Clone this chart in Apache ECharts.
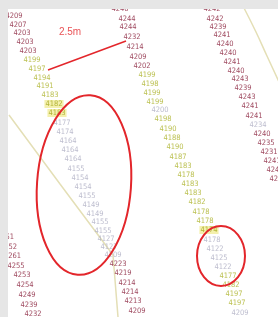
<!DOCTYPE html>
<html>
<head>
<meta charset="utf-8">
<script src="https://cdn.jsdelivr.net/npm/echarts@6/dist/echarts.min.js"></script>
<style>html,body{margin:0;padding:0;background:#fff}#main{width:278px;height:317px}</style>
</head>
<body>
<div id="main"></div>
<script>
// 高程点  tone: r=高 y=中 h=中(标亮) g=低
var aVal  = [4211,4209,4207,4203,4203,4203,4199,4197,4194,4191,4183,4182,4183,4177,4174,4164,4164,4164,4155,4154,4154,4155,4149,4149,4155,4155,4127,4127,4209,4223,4219,4214,4214,4213,4209];
var aX    = [14,14,18,22,25,28,32,37,42,45,50,54,57,62,65,68,70,73,76,80,83,87,91,95,100,103,106,109,113,118,123,127,130,133,137];
var aY    = [6,16,25,33,42,51,60,69,78,86,95,104,113,123,132,141,150,159,169,178,187,196,205,214,222,231,239,247,255,264,273,283,292,301,311];
var aTone = 'rrrrrryyyyyhhggggggggggggggggrrrrrrr'.split('');

var bVal  = [4240,4244,4244,4232,4214,4209,4202,4199,4198,4199,4199,4200,4198,4190,4188,4190,4187,4183,4178,4183,4183,4182,4178,4178,4174,4178,4122,4125,4122,4177,4182,4197,4197,4209];
var bX    = [120,127,128,132,135,138,142,147,150,152,155,160,163,168,172,175,178,183,186,190,193,197,201,205,209,212,215,219,223,228,231,234,237,240];
var bY    = [9,19,27,37,47,57,66,75,84,93,102,110,119,129,138,147,157,166,175,184,193,202,212,221,230,240,249,258,267,276,285,294,303,313];
var bTone = 'rrrrrrryyyygyyyyyyyyyyyyhggggyyyyg'.split('');

var cVal  = [4242,4242,4239,4241,4240,4240,4241,4240,4243,4239,4243,4241,4241,4234,4240,4235,4231,4241,4243,4240];
var cX    = [212,215,218,222,225,228,232,236,240,243,247,250,254,258,262,266,269,272,275,278];
var cY    = [9,19,27,35,44,53,62,71,79,88,97,106,116,125,134,143,152,161,170,179];
var cTone = 'rrrrrrrrrrrrrgrrrrrr'.split('');

var dVal  = [4251,4252,4261,4255,4253,4254,4249,4239,4232];
var dX    = [5.5,8.5,12.5,16,22,25,27,29,33];
var dY    = [237,247,256,266,275,285,295,305,314];
var dTone = 'rrrrrrrrr'.split('');

// 量测线 与 标注
var measureX = [48,126];
var measureY = [70,41];
var measureText = ['2.5m'];
var measureLabelPos = [70,32];

// 圈注区域 [cx, cy, rx, ry, 旋转]
var rings = [[84,185,47,90,-0.07],[221,256,24,30,0]];

// 背景线
var trackA = [[9,115],[60,184],[113,255],[118,317]];
var trackB = [[244,8],[256,32],[267,56],[280,84]];

var toneColor = {r:'#861a36', y:'#aab024', h:'#a4a61c', g:'#adadc2'};

var strands = [[aVal,aX,aY,aTone],[bVal,bX,bY,bTone],[cVal,cX,cY,cTone],[dVal,dX,dY,dTone]];
var groups = {r:[], y:[], h:[], g:[]};
strands.forEach(function(s){
    for (var i = 0; i < s[0].length; i++) {
        groups[s[3][i]].push([s[1][i], s[2][i], s[0][i]]);
    }
});

var font = '"Liberation Sans Narrow", "DejaVu Sans Condensed", sans-serif';

function pointSeries(tone){
    return {
        type: 'scatter',
        symbolSize: 0,
        clip: false,
        z: 3,
        silent: true,
        data: groups[tone],
        label: {
            show: true,
            position: 'inside',
            formatter: function(p){ return p.value[2]; },
            color: toneColor[tone],
            fontSize: 7.5,
            fontFamily: font,
            backgroundColor: tone == 'h' ? '#f1ec98' : 'transparent',
            padding: tone == 'h' ? [0,1] : 0
        }
    };
}

var myChart = echarts.init(document.getElementById('main'));
var option = {
    animation: false,
    grid: {left: 0, right: 0, top: 0, bottom: 0},
    xAxis: {type: 'value', min: 0, max: 278, show: false},
    yAxis: {type: 'value', min: 0, max: 317, inverse: true, show: false},
    series: [
        {   // 背景线
            type: 'line', data: trackA, symbol: 'none', clip: false, z: 1, silent: true,
            lineStyle: {color: '#e4dfb6', width: 1.5}
        },
        {
            type: 'line', data: trackB, symbol: 'none', smooth: true, clip: false, z: 1, silent: true,
            lineStyle: {color: '#e4dfb6', width: 1.5}
        },
        pointSeries('g'),
        pointSeries('y'),
        pointSeries('h'),
        pointSeries('r'),
        {   // 量测线
            type: 'line', symbol: 'none', clip: false, z: 5, silent: true,
            data: measureX.map(function(x, i){ return [x, measureY[i]]; }),
            lineStyle: {color: '#e3262b', width: 1.5}
        },
        {
            type: 'scatter', symbolSize: 0, clip: false, z: 5, silent: true,
            data: [[measureLabelPos[0], measureLabelPos[1], measureText[0]]],
            label: {show: true, position: 'inside', formatter: function(p){ return p.value[2]; },
                    color: '#e3262b', fontSize: 10, fontFamily: '"Liberation Sans", sans-serif'}
        },
        {   // 圈注
            type: 'custom', clip: false, z: 6, silent: true,
            data: rings,
            renderItem: function(params, api){
                var c = api.coord([api.value(0), api.value(1)]);
                var s = api.size([api.value(2), api.value(3)]);
                return {
                    type: 'ellipse',
                    x: c[0], y: c[1],
                    rotation: api.value(4),
                    shape: {cx: 0, cy: 0, rx: s[0], ry: s[1]},
                    style: {fill: 'none', stroke: '#e3262b', lineWidth: 2}
                };
            }
        }
    ],
    graphic: [
        {type: 'rect', z: 100, shape: {x: 0, y: 0, width: 278, height: 9}, style: {fill: '#e6e6e6'}},
        {type: 'rect', z: 100, shape: {x: 0, y: 0, width: 8, height: 317}, style: {fill: '#e6e6e6'}}
    ]
};
myChart.setOption(option, true);
</script>
</body>
</html>
